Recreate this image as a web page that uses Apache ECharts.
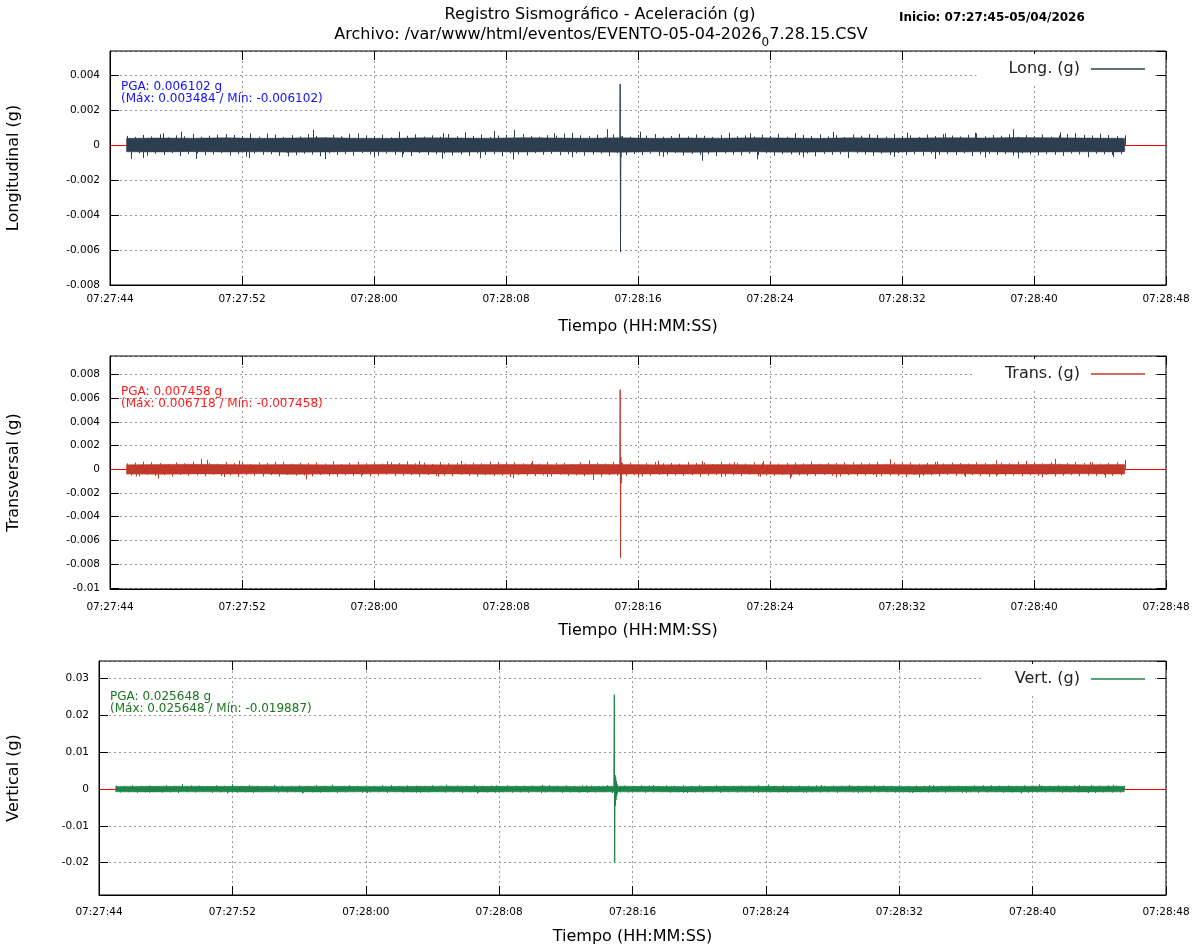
<!DOCTYPE html>
<html><head><meta charset="utf-8">
<script src="https://cdn.jsdelivr.net/npm/echarts@6/dist/echarts.min.js"></script>
<style>html,body{margin:0;padding:0;background:#fff}#c{width:1200px;height:950px}</style>
</head><body><div id="c"></div>
<script>
const FONT = "'DejaVu Sans', sans-serif";

// ---- time axis (seconds after 07:27:44) ----
const clockStart = [7, 27, 44];
const xMin = 0, xMax = 64, xStep = 8;

// ---- texts ----
const titleLine1 = 'Registro Sismográfico - Aceleración (g)';
const titleFilePre = 'Archivo: /var/www/html/eventos/EVENTO-05-04-2026';
const titleFileSub = '0';
const titleFilePost = '7.28.15.CSV';
const startText = 'Inicio: 07:27:45-05/04/2026';
const channelNames = ['Long. (g)', 'Trans. (g)', 'Vert. (g)'];
const yTitles = ['Longitudinal (g)', 'Transversal (g)', 'Vertical (g)'];
const xTitle = 'Tiempo (HH:MM:SS)';
const pgaText = [
  ['PGA: 0.006102 g', '(Máx: 0.003484 / Mín: -0.006102)'],
  ['PGA: 0.007458 g', '(Máx: 0.006718 / Mín: -0.007458)'],
  ['PGA: 0.025648 g', '(Máx: 0.025648 / Mín: -0.019887)']
];

// ---- background noise core envelope (time s, upper / lower in g) ----
const coreT = [1, 3, 5, 7, 9, 11, 13, 15, 17, 19, 21, 23, 25, 27, 29, 31, 33, 35, 37, 39, 41, 43, 45, 47, 49, 51, 53, 55, 57, 59, 61, 61.5];
const longHi = [0.00038, 0.00040, 0.00039, 0.00041, 0.00038, 0.00040, 0.00042, 0.00039, 0.00038, 0.00041, 0.00040, 0.00039, 0.00042, 0.00040, 0.00039, 0.00041, 0.00038, 0.00040, 0.00039, 0.00041, 0.00040, 0.00038, 0.00041, 0.00039, 0.00040, 0.00042, 0.00040, 0.00043, 0.00041, 0.00040, 0.00039, 0.00038];
const longLo = [-0.00039, -0.00040, -0.00038, -0.00040, -0.00039, -0.00041, -0.00040, -0.00038, -0.00039, -0.00040, -0.00041, -0.00039, -0.00040, -0.00038, -0.00040, -0.00041, -0.00039, -0.00042, -0.00040, -0.00039, -0.00041, -0.00040, -0.00039, -0.00041, -0.00038, -0.00040, -0.00039, -0.00041, -0.00040, -0.00039, -0.00040, -0.00038];
const transHi = [0.00038, 0.00041, 0.00042, 0.00040, 0.00039, 0.00040, 0.00038, 0.00039, 0.00040, 0.00038, 0.00039, 0.00040, 0.00041, 0.00039, 0.00042, 0.00040, 0.00039, 0.00038, 0.00040, 0.00039, 0.00038, 0.00040, 0.00039, 0.00041, 0.00039, 0.00040, 0.00041, 0.00040, 0.00042, 0.00039, 0.00040, 0.00041];
const transLo = [-0.00040, -0.00041, -0.00039, -0.00040, -0.00038, -0.00042, -0.00040, -0.00039, -0.00038, -0.00040, -0.00039, -0.00041, -0.00040, -0.00039, -0.00042, -0.00040, -0.00039, -0.00040, -0.00038, -0.00040, -0.00041, -0.00039, -0.00040, -0.00039, -0.00041, -0.00038, -0.00040, -0.00039, -0.00040, -0.00038, -0.00040, -0.00039];
const vertHi = [0.00072, 0.00074, 0.00076, 0.00073, 0.00075, 0.00072, 0.00076, 0.00074, 0.00071, 0.00075, 0.00077, 0.00073, 0.00074, 0.00076, 0.00072, 0.00075, 0.00073, 0.00071, 0.00074, 0.00076, 0.00073, 0.00072, 0.00075, 0.00073, 0.00071, 0.00074, 0.00073, 0.00076, 0.00074, 0.00075, 0.00077, 0.00073];
const vertLo = [-0.00076, -0.00078, -0.00075, -0.00077, -0.00079, -0.00076, -0.00078, -0.00077, -0.00075, -0.00078, -0.00076, -0.00079, -0.00077, -0.00076, -0.00078, -0.00077, -0.00075, -0.00078, -0.00076, -0.00077, -0.00079, -0.00076, -0.00077, -0.00075, -0.00078, -0.00076, -0.00077, -0.00079, -0.00076, -0.00078, -0.00077, -0.00076];

// ---- noise hairs sampled every 0.5 s (up from 1.0 s, down from 1.25 s), g ----
const hairStartUp = 1.0, hairStartDown = 1.25, hairStep = 0.5;
const longHairUp = [0.00052,0.00046,0.00058,0.00049,0.00061,0.00044,0.00055,0.00050,0.00063,0.00047,
  0.00053,0.00059,0.00045,0.00057,0.00051,0.00066,0.00048,0.00054,0.00060,0.00046,
  0.00056,0.00049,0.00062,0.00052,0.00045,0.00058,0.00050,0.00064,0.00047,0.00055,
  0.00051,0.00059,0.00044,0.00057,0.00053,0.00061,0.00048,0.00055,0.00046,0.00063,
  0.00050,0.00057,0.00052,0.00060,0.00045,0.00054,0.00058,0.00049,0.00062,0.00051,
  0.00047,0.00056,0.00053,0.00065,0.00048,0.00055,0.00050,0.00059,0.00046,0.00061,
  0.00052,0.00048,0.00057,0.00054,0.00063,0.00047,0.00051,0.00058,0.00049,0.00060,
  0.00053,0.00046,0.00056,0.00062,0.00050,0.00055,0.00048,0.00059,0.00052,0.00064,
  0.00047,0.00054,0.00058,0.00051,0.00061,0.00049,0.00056,0.00045,0.00060,0.00053,
  0.00050,0.00057,0.00048,0.00063,0.00052,0.00055,0.00046,0.00059,0.00051,0.00062,
  0.00054,0.00049,0.00058,0.00066,0.00050,0.00057,0.00053,0.00061,0.00047,0.00056,
  0.00052,0.00060,0.00048,0.00055,0.00063,0.00050,0.00058,0.00054,0.00049,0.00057,
  0.00052,0.00055];
const longHairDown = [-0.00055,-0.00048,-0.00061,-0.00050,-0.00057,-0.00046,-0.00063,-0.00052,-0.00049,-0.00059,
  -0.00054,-0.00047,-0.00060,-0.00051,-0.00066,-0.00049,-0.00056,-0.00053,-0.00062,-0.00045,
  -0.00058,-0.00050,-0.00055,-0.00064,-0.00048,-0.00057,-0.00052,-0.00060,-0.00046,-0.00054,
  -0.00061,-0.00049,-0.00056,-0.00051,-0.00063,-0.00047,-0.00058,-0.00053,-0.00050,-0.00059,
  -0.00055,-0.00062,-0.00048,-0.00057,-0.00052,-0.00065,-0.00049,-0.00054,-0.00060,-0.00046,
  -0.00056,-0.00051,-0.00059,-0.00053,-0.00048,-0.00061,-0.00055,-0.00050,-0.00064,-0.00047,
  -0.00057,-0.00052,-0.00058,-0.00049,-0.00062,-0.00054,-0.00046,-0.00060,-0.00051,-0.00056,
  -0.00053,-0.00063,-0.00048,-0.00055,-0.00059,-0.00050,-0.00057,-0.00047,-0.00061,-0.00052,
  -0.00054,-0.00058,-0.00049,-0.00065,-0.00051,-0.00056,-0.00053,-0.00060,-0.00048,-0.00055,
  -0.00062,-0.00050,-0.00057,-0.00046,-0.00059,-0.00053,-0.00061,-0.00049,-0.00056,-0.00052,
  -0.00058,-0.00047,-0.00063,-0.00054,-0.00050,-0.00057,-0.00052,-0.00060,-0.00048,-0.00055,
  -0.00059,-0.00051,-0.00056,-0.00062,-0.00049,-0.00054,-0.00058,-0.00050,-0.00053,-0.00057,
  -0.00052];
const transHairUp = [0.00050,0.00056,0.00047,0.00060,0.00053,0.00045,0.00058,0.00051,0.00064,0.00049,
  0.00055,0.00048,0.00061,0.00052,0.00057,0.00046,0.00059,0.00054,0.00050,0.00063,
  0.00047,0.00056,0.00052,0.00060,0.00049,0.00058,0.00045,0.00055,0.00062,0.00051,
  0.00054,0.00048,0.00059,0.00053,0.00066,0.00050,0.00057,0.00046,0.00061,0.00052,
  0.00056,0.00049,0.00058,0.00051,0.00064,0.00047,0.00055,0.00060,0.00050,0.00053,
  0.00048,0.00062,0.00054,0.00057,0.00046,0.00059,0.00051,0.00056,0.00049,0.00063,
  0.00052,0.00058,0.00047,0.00055,0.00061,0.00050,0.00054,0.00048,0.00060,0.00053,
  0.00057,0.00045,0.00062,0.00051,0.00056,0.00049,0.00059,0.00052,0.00065,0.00048,
  0.00054,0.00058,0.00050,0.00061,0.00047,0.00055,0.00053,0.00060,0.00049,0.00057,
  0.00051,0.00063,0.00046,0.00056,0.00052,0.00059,0.00048,0.00054,0.00062,0.00050,
  0.00057,0.00053,0.00049,0.00060,0.00055,0.00047,0.00058,0.00052,0.00064,0.00050,
  0.00056,0.00051,0.00059,0.00048,0.00054,0.00061,0.00053,0.00057,0.00049,0.00055,
  0.00060,0.00052];
const transHairDown = [-0.00053,-0.00059,-0.00047,-0.00056,-0.00050,-0.00062,-0.00048,-0.00055,-0.00051,-0.00060,
  -0.00046,-0.00057,-0.00053,-0.00064,-0.00049,-0.00055,-0.00058,-0.00050,-0.00061,-0.00047,
  -0.00054,-0.00052,-0.00059,-0.00048,-0.00056,-0.00063,-0.00051,-0.00057,-0.00049,-0.00060,
  -0.00053,-0.00046,-0.00058,-0.00054,-0.00050,-0.00062,-0.00048,-0.00056,-0.00052,-0.00059,
  -0.00047,-0.00055,-0.00061,-0.00050,-0.00057,-0.00053,-0.00065,-0.00049,-0.00054,-0.00058,
  -0.00051,-0.00060,-0.00046,-0.00056,-0.00052,-0.00059,-0.00048,-0.00063,-0.00050,-0.00055,
  -0.00057,-0.00049,-0.00061,-0.00053,-0.00047,-0.00058,-0.00052,-0.00056,-0.00050,-0.00062,
  -0.00054,-0.00048,-0.00059,-0.00051,-0.00057,-0.00045,-0.00060,-0.00053,-0.00056,-0.00049,
  -0.00063,-0.00052,-0.00055,-0.00058,-0.00047,-0.00054,-0.00061,-0.00050,-0.00057,-0.00053,
  -0.00048,-0.00059,-0.00052,-0.00056,-0.00064,-0.00049,-0.00055,-0.00051,-0.00060,-0.00047,
  -0.00058,-0.00053,-0.00050,-0.00057,-0.00062,-0.00048,-0.00055,-0.00052,-0.00059,-0.00051,
  -0.00056,-0.00049,-0.00061,-0.00054,-0.00050,-0.00058,-0.00053,-0.00057,-0.00048,-0.00055,
  -0.00052];
const vertHairUp = [0.00092,0.00085,0.00101,0.00088,0.00096,0.00083,0.00105,0.00090,0.00087,0.00099,
  0.00094,0.00082,0.00103,0.00089,0.00097,0.00086,0.00108,0.00091,0.00084,0.00100,
  0.00093,0.00088,0.00098,0.00085,0.00104,0.00090,0.00095,0.00083,0.00102,0.00087,
  0.00096,0.00089,0.00106,0.00092,0.00084,0.00099,0.00091,0.00087,0.00103,0.00094,
  0.00086,0.00097,0.00090,0.00110,0.00088,0.00095,0.00083,0.00101,0.00092,0.00089,
  0.00098,0.00085,0.00104,0.00091,0.00096,0.00087,0.00100,0.00093,0.00084,0.00107,
  0.00090,0.00097,0.00088,0.00102,0.00094,0.00086,0.00099,0.00091,0.00105,0.00089,
  0.00095,0.00083,0.00101,0.00092,0.00087,0.00098,0.00090,0.00106,0.00093,0.00085,
  0.00100,0.00088,0.00096,0.00091,0.00103,0.00086,0.00094,0.00089,0.00108,0.00092,
  0.00097,0.00084,0.00099,0.00090,0.00104,0.00087,0.00095,0.00091,0.00102,0.00088,
  0.00096,0.00093,0.00085,0.00100,0.00089,0.00106,0.00092,0.00098,0.00086,0.00103,
  0.00090,0.00095,0.00088,0.00101,0.00093,0.00097,0.00085,0.00104,0.00091,0.00099,
  0.00094,0.00090];
const vertHairDown = [-0.00095,-0.00088,-0.00103,-0.00091,-0.00086,-0.00100,-0.00093,-0.00108,-0.00089,-0.00097,
  -0.00084,-0.00102,-0.00092,-0.00087,-0.00099,-0.00094,-0.00106,-0.00090,-0.00085,-0.00101,
  -0.00096,-0.00089,-0.00104,-0.00092,-0.00098,-0.00086,-0.00110,-0.00093,-0.00088,-0.00100,
  -0.00095,-0.00091,-0.00105,-0.00087,-0.00097,-0.00090,-0.00102,-0.00094,-0.00085,-0.00099,
  -0.00092,-0.00107,-0.00089,-0.00096,-0.00093,-0.00101,-0.00088,-0.00098,-0.00091,-0.00104,
  -0.00086,-0.00095,-0.00090,-0.00103,-0.00093,-0.00087,-0.00100,-0.00096,-0.00089,-0.00108,
  -0.00092,-0.00097,-0.00085,-0.00102,-0.00094,-0.00090,-0.00099,-0.00088,-0.00105,-0.00093,
  -0.00096,-0.00091,-0.00101,-0.00087,-0.00098,-0.00094,-0.00106,-0.00089,-0.00095,-0.00092,
  -0.00103,-0.00086,-0.00100,-0.00093,-0.00097,-0.00090,-0.00104,-0.00088,-0.00096,-0.00091,
  -0.00102,-0.00094,-0.00087,-0.00099,-0.00092,-0.00107,-0.00089,-0.00097,-0.00093,-0.00101,
  -0.00086,-0.00098,-0.00091,-0.00105,-0.00094,-0.00088,-0.00100,-0.00095,-0.00090,-0.00103,
  -0.00092,-0.00097,-0.00087,-0.00102,-0.00093,-0.00099,-0.00089,-0.00104,-0.00091,-0.00096,
  -0.00094];

// ---- larger individual noise peaks (time s, value g) ----
const longPeakT = [3.2, 4.3, 7.0, 9.5, 12.3, 15.0, 17.5, 20.2, 21.5, 23.3, 24.5, 26.9, 28.0, 30.1, 32.1, 34.5, 37.5, 38.8, 41.5, 43.8, 46.0, 48.3, 50.6, 52.4, 54.7, 57.6, 58.5, 60.0,
  1.3, 2.0, 5.2, 8.4, 10.8, 13.0, 16.0, 17.7, 20.1, 22.4, 24.4, 28.0, 33.5, 35.9, 39.2, 42.0, 44.7, 47.5, 50.0, 53.0, 55.0, 59.3, 60.8];
const longPeakV = [0.00067, 0.00076, 0.00062, 0.00065, 0.00086, 0.00066, 0.00076, 0.00067, 0.00072, 0.0008, 0.00086, 0.00067, 0.0007, 0.0009, 0.00076, 0.00064, 0.0007, 0.00067, 0.00068, 0.00075, 0.00062, 0.0007, 0.00066, 0.0007, 0.0009, 0.00072, 0.00067, 0.00064,
  -0.0008, -0.00074, -0.0008, -0.00074, -0.00065, -0.0008, -0.00068, -0.0007, -0.00078, -0.00076, -0.00082, -0.0007, -0.00068, -0.0009, -0.00082, -0.0007, -0.00075, -0.00068, -0.0008, -0.00072, -0.00076, -0.0007, -0.00068];
const transPeakT = [2.0, 5.5, 5.9, 7.8, 10.0, 13.5, 16.8, 18.7, 21.3, 23.5, 25.6, 29.0, 33.2, 35.9, 37.8, 39.6, 42.5, 45.0, 47.3, 50.1, 53.7, 55.5, 57.3, 59.4, 61.5,
  1.6, 2.9, 6.9, 9.3, 11.9, 15.2, 19.9, 24.4, 26.5, 29.3, 32.0, 37.0, 39.4, 41.2, 44.0, 46.4, 49.0, 51.8, 53.7, 56.5, 60.3];
const transPeakV = [0.00065, 0.00088, 0.0008, 0.00073, 0.00062, 0.00068, 0.00068, 0.0007, 0.0007, 0.00062, 0.0007, 0.00075, 0.00072, 0.00068, 0.0006, 0.0007, 0.00065, 0.0006, 0.00085, 0.00065, 0.00077, 0.0007, 0.00088, 0.00062, 0.0008,
  -0.0006, -0.00077, -0.00065, -0.0006, -0.00085, -0.00062, -0.00062, -0.00077, -0.00065, -0.0009, -0.00062, -0.00065, -0.00062, -0.0008, -0.0007, -0.00065, -0.0007, -0.00065, -0.0006, -0.00068, -0.0007];
const vertPeakT = [5.0, 8.0, 10.5, 14.0, 17.5, 20.8, 23.8, 26.6, 29.2, 33.2, 36.0, 40.1, 43.3, 46.5, 49.8, 53.0, 56.4, 58.8, 60.8,
  3.0, 7.7, 12.2, 16.1, 19.0, 22.7, 26.5, 28.8, 35.0, 39.5, 42.4, 45.5, 48.6, 52.0, 55.3, 59.3];
const vertPeakV = [0.00136, 0.0013, 0.0011, 0.0012, 0.0011, 0.0012, 0.001, 0.00115, 0.001, 0.0011, 0.001, 0.0012, 0.0011, 0.00105, 0.0011, 0.001, 0.0013, 0.0011, 0.0012,
  -0.001, -0.0012, -0.0012, -0.0011, -0.001, -0.0012, -0.0011, -0.001, -0.001, -0.0011, -0.001, -0.0011, -0.001, -0.00105, -0.0012, -0.0011];

// ---- event (time s, value g) ----
const longEventT = [30.90, 30.92, 30.94, 30.96, 30.98];
const longEventV = [0.0002, 0.003484, -0.006102, 0.0005, -0.0007];
const transEventT = [30.90, 30.92, 30.94, 30.96, 30.98, 31.00, 31.02];
const transEventV = [0.0003, 0.006718, -0.007458, 0.00105, -0.00117, 0.0006, -0.0005];
const vertEventT = [30.88, 30.91, 30.93, 30.95, 30.97, 30.99, 31.01, 31.03, 31.05, 31.07, 31.09, 31.11];
const vertEventV = [0.0005, 0.025648, -0.019887, 0.0038, -0.0045, 0.0032, -0.0030, 0.0022, -0.0020, 0.0014, -0.0012, 0.0009];

// ---- y axis ranges ----
const yMin = [-0.008, -0.0101, -0.0288];
const yMax = [0.00537, 0.00956, 0.0348];
const ySplit = [7, 10, 6];

const colors = ['#2c3e50', '#c0392b', '#1e8449'];
const textColors = ['#1010ff', '#ff1a1a', '#19751f'];

const grids = [
  {left: 110, top: 51, width: 1056, height: 234},
  {left: 110, top: 356, width: 1056, height: 233},
  {left: 99, top: 661, width: 1067, height: 234}
];
const yNameGap = [88, 88, 77];
const xLabelMargin = [9, 13, 12];

const channels = [
  {T: coreT, hi: longHi, lo: longLo, hu: longHairUp, hd: longHairDown, pT: longPeakT, pV: longPeakV, eT: longEventT, eV: longEventV},
  {T: coreT, hi: transHi, lo: transLo, hu: transHairUp, hd: transHairDown, pT: transPeakT, pV: transPeakV, eT: transEventT, eV: transEventV},
  {T: coreT, hi: vertHi, lo: vertLo, hu: vertHairUp, hd: vertHairDown, pT: vertPeakT, pV: vertPeakV, eT: vertEventT, eV: vertEventV}
];

function pad(n) { return (n < 10 ? '0' : '') + n; }
function clock(sec) {
  let s = clockStart[0] * 3600 + clockStart[1] * 60 + clockStart[2] + Math.round(sec);
  const h = Math.floor(s / 3600); s -= h * 3600;
  const m = Math.floor(s / 60); s -= m * 60;
  return pad(h) + ':' + pad(m) + ':' + pad(s);
}

function hairRenderer(col) {
  return function (params, api) {
    const a = api.coord([api.value(0), 0]);
    const b = api.coord([api.value(0), api.value(1)]);
    const x = Math.round(a[0]) + 0.5;
    return {type: 'line', shape: {x1: x, y1: a[1], x2: x, y2: b[1]}, style: {stroke: col, lineWidth: 1}};
  };
}

const tickLine = {color: '#000', width: 1};
const xAxis = [], yAxis = [], series = [], legend = [], graphic = [];

grids.forEach((g, i) => {
  xAxis.push({
    type: 'value', gridIndex: i, min: xMin, max: xMax, interval: xStep, position: 'bottom',
    axisLine: {show: true, onZero: false, lineStyle: tickLine},
    axisTick: {inside: true, length: 9, lineStyle: tickLine},
    axisLabel: {formatter: clock, fontFamily: FONT, fontSize: 10.5, color: '#000', margin: xLabelMargin[i]},
    splitLine: {show: true, lineStyle: {color: '#9a9a9a', width: 1, type: [2, 3]}},
    name: xTitle, nameLocation: 'middle', nameGap: 34,
    nameTextStyle: {fontFamily: FONT, fontSize: 16, color: '#000'}
  });
  xAxis.push({
    type: 'value', gridIndex: i, min: xMin, max: xMax, interval: xStep, position: 'top',
    axisLine: {show: false, onZero: false},
    axisTick: {inside: true, length: 9, lineStyle: tickLine},
    axisLabel: {show: false}, splitLine: {show: false}
  });
  yAxis.push({
    type: 'value', gridIndex: i, min: yMin[i], max: yMax[i], splitNumber: ySplit[i], position: 'left',
    axisLine: {show: true, onZero: false, lineStyle: tickLine},
    axisTick: {inside: true, length: 9, lineStyle: tickLine},
    axisLabel: {fontFamily: FONT, fontSize: 10.5, color: '#000', margin: 10,
      showMinLabel: i === 0, showMaxLabel: false},
    splitLine: {show: true, lineStyle: {color: '#9a9a9a', width: 1, type: [2, 3]}},
    name: yTitles[i], nameLocation: 'middle', nameGap: yNameGap[i], nameRotate: 90,
    nameTextStyle: {fontFamily: FONT, fontSize: 16, color: '#000'}
  });
  yAxis.push({
    type: 'value', gridIndex: i, min: yMin[i], max: yMax[i], splitNumber: ySplit[i], position: 'right',
    axisLine: {show: false, onZero: false},
    axisTick: {inside: true, length: 9, lineStyle: tickLine},
    axisLabel: {show: false}, splitLine: {show: false}
  });

  const ch = channels[i], col = colors[i], name = channelNames[i];
  series.push({
    type: 'custom', name: name, xAxisIndex: 2 * i, yAxisIndex: 2 * i, z: 2,
    itemStyle: {color: col}, silent: true,
    data: ch.T.map((t, k) => [t, ch.hi[k], ch.lo[k]]),
    encode: {x: 0, y: [1, 2]},
    renderItem: function (params, api) {
      if (params.dataIndex !== 0) return;
      const pts = [];
      for (let k = 0; k < ch.T.length; k++) pts.push(api.coord([ch.T[k], ch.hi[k]]));
      for (let k = ch.T.length - 1; k >= 0; k--) pts.push(api.coord([ch.T[k], ch.lo[k]]));
      return {type: 'polygon', shape: {points: pts}, style: {fill: col, stroke: col, lineWidth: 0.5}};
    },
    markLine: {silent: true, symbol: 'none', z: 1, animation: false,
      label: {show: false}, lineStyle: {color: '#ff0000', width: 1, type: 'solid'},
      data: [{yAxis: 0}]}
  });
  const hairData = ch.hu.map((v, k) => [hairStartUp + k * hairStep, v])
    .concat(ch.hd.map((v, k) => [hairStartDown + k * hairStep, v]))
    .concat(ch.pT.map((t, k) => [t, ch.pV[k]]));
  series.push({
    type: 'custom', name: name, xAxisIndex: 2 * i, yAxisIndex: 2 * i, z: 2,
    itemStyle: {color: col}, silent: true,
    data: hairData, encode: {x: 0, y: 1},
    renderItem: hairRenderer(col)
  });
  series.push({
    type: 'line', name: name, xAxisIndex: 2 * i, yAxisIndex: 2 * i, z: 3,
    showSymbol: false, symbol: 'none', silent: true,
    lineStyle: {color: col, width: 1}, itemStyle: {color: col},
    data: ch.eT.map((t, k) => [t, ch.eV[k]])
  });

  legend.push({
    data: [{name: name, icon: 'rect'}], selectedMode: false,
    right: 45, top: g.top + 3, orient: 'horizontal', align: 'right',
    itemWidth: 54, itemHeight: 1.5, backgroundColor: '#ffffff',
    padding: [7, 10, 7, 32],
    textStyle: {fontFamily: FONT, fontSize: 16, color: '#222', padding: [0, 6, 0, 0]}
  });

  graphic.push({
    type: 'text', left: g.left + 11, top: g.top + 30, z: 50,
    style: {text: pgaText[i].join('\n'), font: '12px ' + FONT, fill: textColors[i], lineHeight: 12}
  });
});

graphic.push({
  type: 'text', x: 600, y: 15, z: 50,
  style: {text: titleLine1, font: '16px ' + FONT, fill: '#000', align: 'center', verticalAlign: 'middle'}
});
graphic.push({
  type: 'text', x: 601, y: 36, z: 50,
  style: {
    text: '{a|' + titleFilePre + '}{s|' + titleFileSub + '}{a|' + titleFilePost + '}',
    align: 'center', verticalAlign: 'middle',
    rich: {
      a: {fontFamily: FONT, fontSize: 16, lineHeight: 18, verticalAlign: 'top', fill: '#000', color: '#000'},
      s: {fontFamily: FONT, fontSize: 12, lineHeight: 11, padding: [10, 0, 0, 0], verticalAlign: 'top', fill: '#000', color: '#000'}
    }
  }
});
graphic.push({
  type: 'text', x: 899, y: 18, z: 50,
  style: {text: startText, font: 'bold 12px ' + FONT, fill: '#000', verticalAlign: 'middle'}
});

const chart = echarts.init(document.getElementById('c'), null, {renderer: 'canvas'});
chart.setOption({
  animation: false,
  backgroundColor: '#ffffff',
  grid: grids.map(g => Object.assign({show: true, z: 10, borderColor: '#000', borderWidth: 1,
    backgroundColor: 'rgba(0,0,0,0)', containLabel: false, outerBoundsMode: 'none'}, g)),
  xAxis: xAxis, yAxis: yAxis, legend: legend, series: series, graphic: graphic
});
</script></body></html>
